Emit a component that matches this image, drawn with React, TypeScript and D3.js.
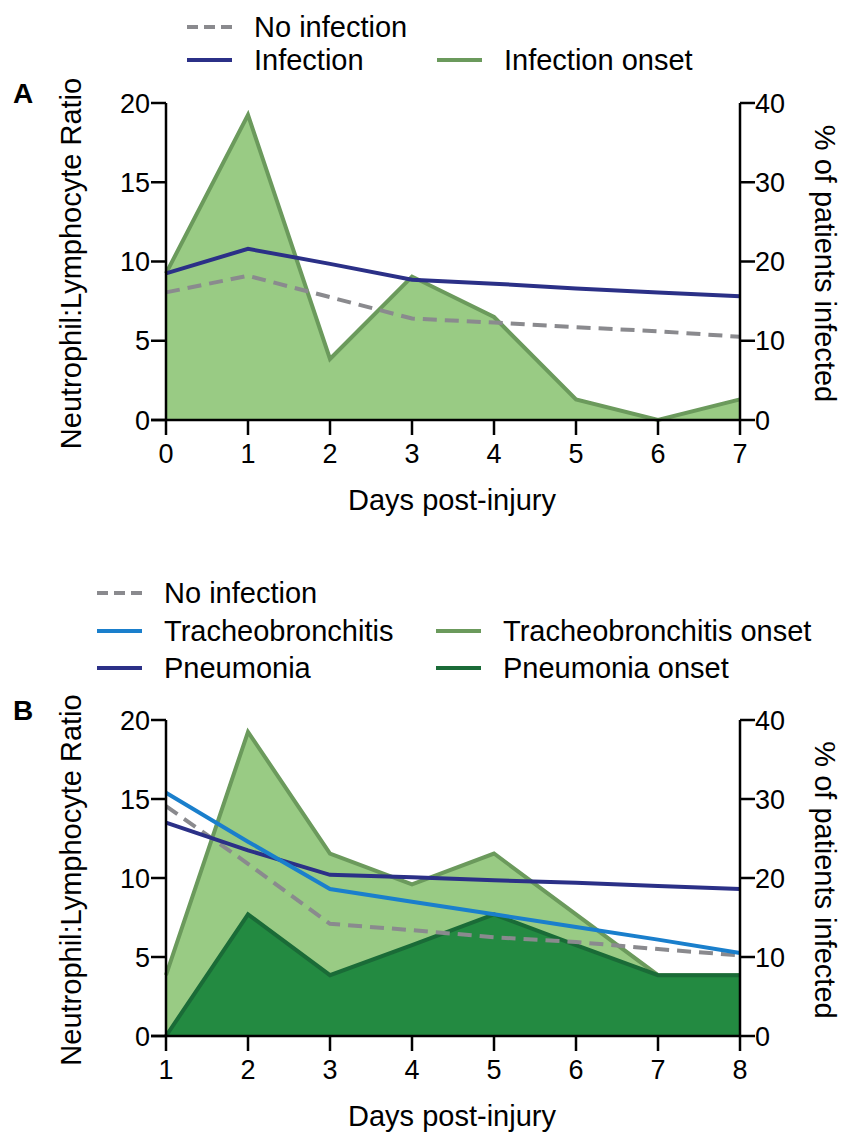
import React from 'react';
import * as d3 from 'd3';

// panel A
const daysA = [0, 1, 2, 3, 4, 5, 6, 7];
const noInfA = [8.05, 9.1, 7.75, 6.4, 6.15, 5.85, 5.6, 5.25];
const infA = [9.25, 10.8, 9.85, 8.85, 8.6, 8.3, 8.05, 7.8];
const onsetA = [18.5, 38.5, 7.7, 18.1, 13.0, 2.6, 0, 2.6];

// panel B
const daysB = [1, 2, 3, 4, 5, 6, 7, 8];
const noInfB = [14.55, 10.9, 7.1, 6.7, 6.25, 5.95, 5.5, 5.1];
const trachB = [15.4, 12.3, 9.3, 8.5, 7.7, 6.9, 6.1, 5.25];
const pneuB = [13.5, 11.75, 10.2, 10.05, 9.85, 9.7, 9.5, 9.3];
const trachOnsetB = [7.7, 38.5, 23.1, 19.2, 23.1, 15.4, 7.7, 7.7];
const pneuOnsetB = [0, 15.4, 7.7, 11.5, 15.4, 11.5, 7.7, 7.7];

const ratioTicks = [0, 5, 10, 15, 20];
const pctTicks = [0, 10, 20, 30, 40];

const C = {
  gray: '#8a8a8e',
  navy: '#2b3087',
  blue: '#1a7fcc',
  lightFill: '#99cb84',
  lightStroke: '#6b9a5c',
  darkFill: '#238a41',
  darkStroke: '#1a6b37',
};

const FONT = '"Liberation Sans", Arial, Helvetica, sans-serif';
const left = 166, right = 740;

type Line = { values: number[]; color: string; dash?: boolean };
type Area = { values: number[]; fill: string; stroke: string };

function Panel({ top, bottom, days, areas, lines, letter }: {
  top: number; bottom: number; days: number[]; areas: Area[]; lines: Line[]; letter: string;
}) {
  const x = d3.scaleLinear().domain([days[0], days[days.length - 1]]).range([left, right]);
  const y = d3.scaleLinear().domain([0, 20]).range([bottom, top]);
  const y2 = d3.scaleLinear().domain([0, 40]).range([bottom, top]);

  const area = d3.area<number>().x((_, i) => x(days[i])).y0(bottom).y1(d => y2(d));
  const areaTop = d3.line<number>().x((_, i) => x(days[i])).y(d => y2(d));
  const line = d3.line<number>().x((_, i) => x(days[i])).y(d => y(d));
  const mid = (top + bottom) / 2;

  return (
    <g>
      <text x={13} y={top} fontSize={28} fontWeight="bold">{letter}</text>
      {areas.map((a, i) => (
        <g key={'a' + i}>
          <path d={area(a.values) || ''} fill={a.fill} />
          <path d={areaTop(a.values) || ''} fill="none" stroke={a.stroke} strokeWidth={4} />
        </g>
      ))}
      {lines.map((l, i) => (
        <path key={'l' + i} d={line(l.values) || ''} fill="none" stroke={l.color}
          strokeWidth={4} strokeDasharray={l.dash ? '14,8' : undefined} />
      ))}
      {/* left axis */}
      <line x1={left} x2={left} y1={top} y2={bottom + 1} stroke="#000" strokeWidth={2.5} />
      {ratioTicks.map(t => (
        <g key={'yl' + t}>
          <line x1={left - 15} x2={left} y1={y(t)} y2={y(t)} stroke="#000" strokeWidth={2.5} />
          <text x={left - 16} y={y(t)} dy="0.36em" textAnchor="end" fontSize={27}>{t}</text>
        </g>
      ))}
      {/* right axis */}
      <line x1={right} x2={right} y1={top} y2={bottom + 1} stroke="#000" strokeWidth={2.5} />
      {pctTicks.map(t => (
        <g key={'yr' + t}>
          <line x1={right} x2={right + 15} y1={y2(t)} y2={y2(t)} stroke="#000" strokeWidth={2.5} />
          <text x={right + 15} y={y2(t)} dy="0.36em" textAnchor="start" fontSize={27}>{t}</text>
        </g>
      ))}
      {/* bottom axis */}
      <line x1={left - 15} x2={right} y1={bottom} y2={bottom} stroke="#000" strokeWidth={2.5} />
      {days.map(d => (
        <g key={'x' + d}>
          <line x1={x(d)} x2={x(d)} y1={bottom} y2={bottom + 15} stroke="#000" strokeWidth={2.5} />
          <text x={x(d)} y={bottom + 43} textAnchor="middle" fontSize={27}>{d}</text>
        </g>
      ))}
      <text x={(left + right) / 2 - 1} y={bottom + 90} textAnchor="middle" fontSize={29}>Days post-injury</text>
      <text transform={`translate(81,${mid + 2}) rotate(-90)`} textAnchor="middle" fontSize={29}>Neutrophil:Lymphocyte Ratio</text>
      <text transform={`translate(815,${mid + 2}) rotate(90)`} textAnchor="middle" fontSize={29}>% of patients infected</text>
    </g>
  );
}

function LegendItem({ x, y, color, label, dash }: { x: number; y: number; color: string; label: string; dash?: boolean }) {
  return (
    <g>
      <line x1={x} x2={x + 45} y1={y} y2={y} stroke={color} strokeWidth={4}
        strokeDasharray={dash ? '11,6' : undefined} />
      <text x={x + 67} y={y} dy="0.36em" fontSize={29}>{label}</text>
    </g>
  );
}

export default function App() {
  return (
    <svg width={846} height={1137} style={{ position: 'absolute', left: 0, top: 0, fontFamily: FONT }}>
      <rect width={846} height={1137} fill="#fff" />
      <LegendItem x={187} y={27} color={C.gray} label="No infection" dash />
      <LegendItem x={187} y={60} color={C.navy} label="Infection" />
      <LegendItem x={437} y={60} color={C.lightStroke} label="Infection onset" />
      <Panel top={103} bottom={420} days={daysA} letter="A"
        areas={[{ values: onsetA, fill: C.lightFill, stroke: C.lightStroke }]}
        lines={[{ values: noInfA, color: C.gray, dash: true }, { values: infA, color: C.navy }]} />

      <LegendItem x={97} y={593} color={C.gray} label="No infection" dash />
      <LegendItem x={97} y={631} color={C.blue} label="Tracheobronchitis" />
      <LegendItem x={97} y={668} color={C.navy} label="Pneumonia" />
      <LegendItem x={436} y={631} color={C.lightStroke} label="Tracheobronchitis onset" />
      <LegendItem x={436} y={668} color={C.darkStroke} label="Pneumonia onset" />
      <Panel top={720} bottom={1036} days={daysB} letter="B"
        areas={[
          { values: trachOnsetB, fill: C.lightFill, stroke: C.lightStroke },
          { values: pneuOnsetB, fill: C.darkFill, stroke: C.darkStroke },
        ]}
        lines={[
          { values: noInfB, color: C.gray, dash: true },
          { values: pneuB, color: C.navy },
          { values: trachB, color: C.blue },
        ]} />
    </svg>
  );
}
